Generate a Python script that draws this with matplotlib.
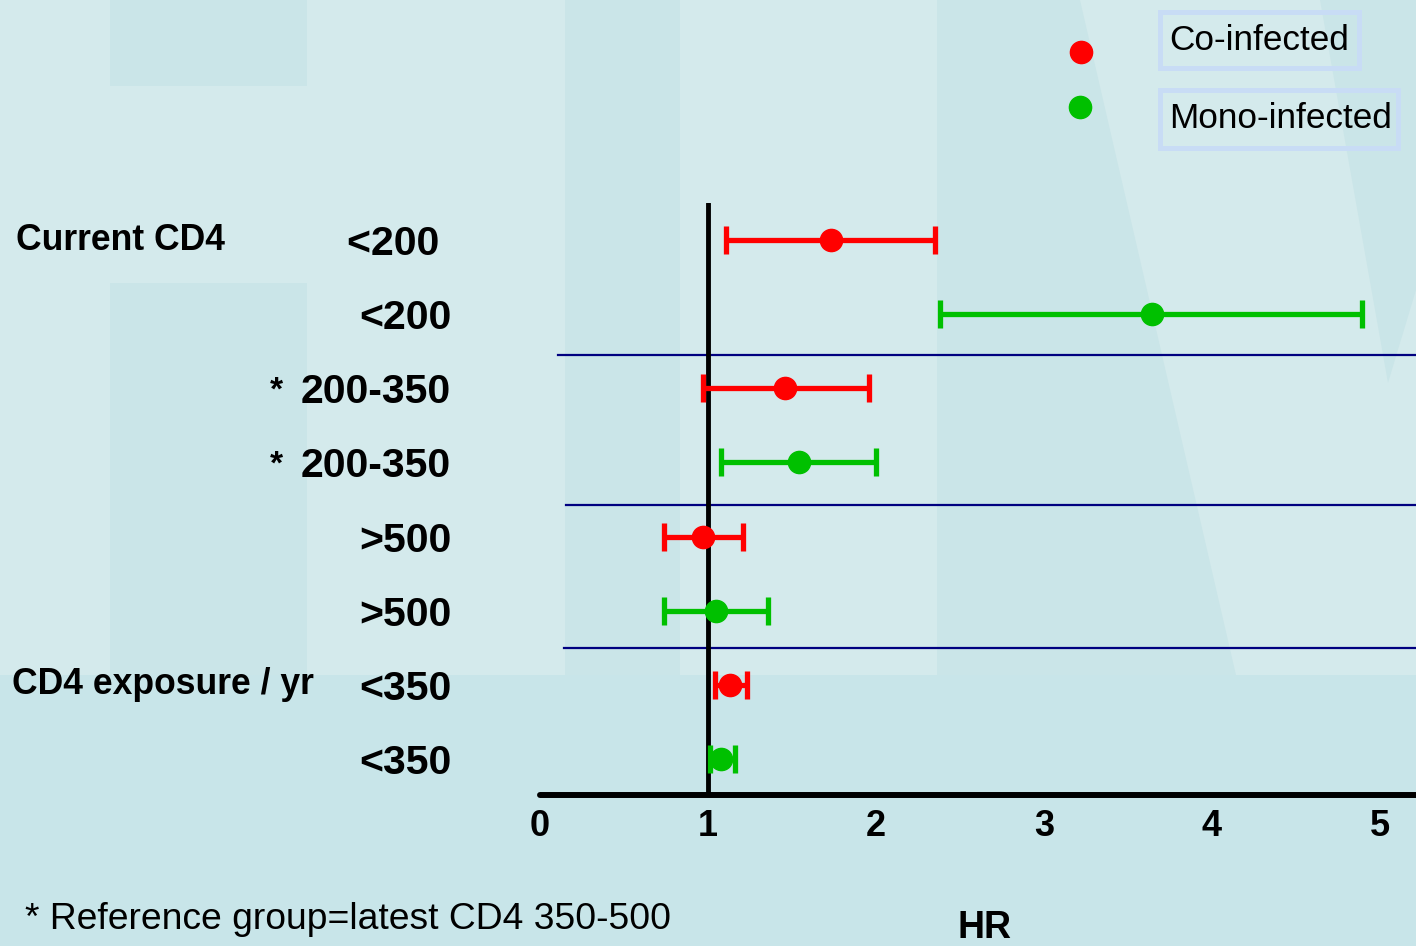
import matplotlib
matplotlib.use("Agg")
import matplotlib.pyplot as plt
from matplotlib.patches import Rectangle, Polygon, Arc
from matplotlib.transforms import blended_transform_factory

plt.rcParams['font.family'] = ['Liberation Sans', 'DejaVu Sans']

# ---------------- data ----------------
categories = ['<200', '200-350', '>500', '<350']
co_hr = [1.73, 1.46, 0.97, 1.13]
co_lo = [1.11, 0.97, 0.74, 1.04]
co_hi = [2.35, 1.96, 1.21, 1.23]
mono_hr = [3.64, 1.54, 1.05, 1.08]
mono_lo = [2.38, 1.08, 0.74, 1.01]
mono_hi = [4.89, 2.00, 1.36, 1.16]
row_labels = ['<200 ', '<200', '200-350', '200-350', '>500', '>500', '<350', '<350']
starred_rows = [2, 3]
group_labels = ['Current CD4', 'CD4 exposure / yr']
group_rows = [0, 6]
separators = [1.55, 3.57, 5.5]
sep_starts = [0.107, 0.155, 0.143]
x_ticks = [0, 1, 2, 3, 4, 5]
series_names = ['Co-infected', 'Mono-infected']
co_color = '#ff0000'
mono_color = '#00c000'

W, H = 1416, 946
fig = plt.figure(figsize=(W / 100, H / 100), dpi=100)
fig.patch.set_facecolor('#d4eaec')

# ---------------- background (watermark) ----------------
bg = fig.add_axes([0, 0, 1, 1], zorder=0)
bg.set_xlim(0, W)
bg.set_ylim(H, 0)
bg.axis('off')
dark = '#cae5e8'
bg.add_patch(Rectangle((110, 0), 197, 86, color=dark, lw=0))
bg.add_patch(Rectangle((110, 283), 197, 392, color=dark, lw=0))
bg.add_patch(Rectangle((565, 0), 115, 675, color=dark, lw=0))
bg.add_patch(Polygon([(937, 0), (1080, 0), (1236, 675), (937, 675)], closed=True, color=dark, lw=0))
bg.add_patch(Polygon([(1320, 0), (1416, 0), (1416, 290), (1388, 383)], closed=True, color=dark, lw=0))
bg.add_patch(Rectangle((0, 675), W, H - 675, color='#c8e5e9', lw=0))

# ---------------- main axes ----------------
ax = fig.add_axes([540 / W, 1 - 795 / H, 876 / W, 592 / H], zorder=2)
ax.set_facecolor('none')
ax.set_xlim(0, 876 / 168)
ax.set_ylim(7.486, -0.5)

co_rows = [0, 2, 4, 6]
mono_rows = [1, 3, 5, 7]
for rows, hr, lo, hi, col in [(co_rows, co_hr, co_lo, co_hi, co_color),
                              (mono_rows, mono_hr, mono_lo, mono_hi, mono_color)]:
    xerr = [[h - l for h, l in zip(hr, lo)], [u - h for h, u in zip(hr, hi)]]
    eb = ax.errorbar(hr, rows, xerr=xerr, fmt='o', color=col, ms=16, elinewidth=3.8,
                     capsize=10, capthick=3.8, zorder=4)
    for c in eb[1]:
        c.set_solid_capstyle('round')
    for l in eb[2]:
        l.set_capstyle('butt')

ax.axvline(1, color='black', lw=3.5, zorder=3, solid_capstyle='round')

for y, x0 in zip(separators, sep_starts):
    ax.plot([x0, 876 / 168], [y, y], color='#000080', lw=1.6, zorder=2, clip_on=False)

for s in ['top', 'right', 'left']:
    ax.spines[s].set_visible(False)
ax.spines['bottom'].set_linewidth(4.3)
ax.spines['bottom'].set_capstyle('round')
ax.spines['bottom'].set_zorder(5)

ax.set_xticks(x_ticks)
ax.set_xticklabels([str(t) for t in x_ticks], fontsize=26, fontweight='bold')
ax.tick_params(axis='x', length=0, pad=10)
ax.set_yticks(range(len(row_labels)))
ax.set_yticklabels(row_labels, fontsize=29.5, fontweight='bold')
ax.tick_params(axis='y', length=0, pad=64)

tr = blended_transform_factory(bg.transData, ax.transData)
for lab, r, x in zip(group_labels, group_rows, [16, 12]):
    ax.text(x, r, lab, transform=tr, ha='left', va='center', fontsize=25.6,
            fontweight='bold')
for r in starred_rows:
    ax.text(276, r + 0.04, '*', transform=tr, ha='center', va='center',
            fontsize=24, fontweight='bold')

# ---------------- legend ----------------
ov = fig.add_axes([0, 0, 1, 1], zorder=3)
ov.set_xlim(0, W)
ov.set_ylim(H, 0)
ov.axis('off')
for (mx, my), col in zip([(1081, 52), (1080, 107)], [co_color, mono_color]):
    ov.plot([mx], [my], 'o', color=col, ms=16)
    ov.add_patch(Arc((mx + 1, my + 1), 13, 13, theta1=-10, theta2=100, color='white', lw=1.2))
for (rx, ry, rw, rh), name in zip([(1160, 12, 199, 56), (1160, 90, 238, 58)], series_names):
    ov.add_patch(Rectangle((rx, ry), rw, rh, fill=False, edgecolor='#c8dcf5', lw=3.6))
    ov.text(rx + 9, ry + rh / 2, name, ha='left', va='center', fontsize=25.3)

ov.text(25, 919, '* Reference group=latest CD4 350-500', ha='left', va='center', fontsize=26.8)
ov.text(985, 938, 'HR', ha='center', va='baseline', fontsize=27, fontweight='bold')

fig.savefig('out.png', dpi=100, facecolor=fig.get_facecolor())
